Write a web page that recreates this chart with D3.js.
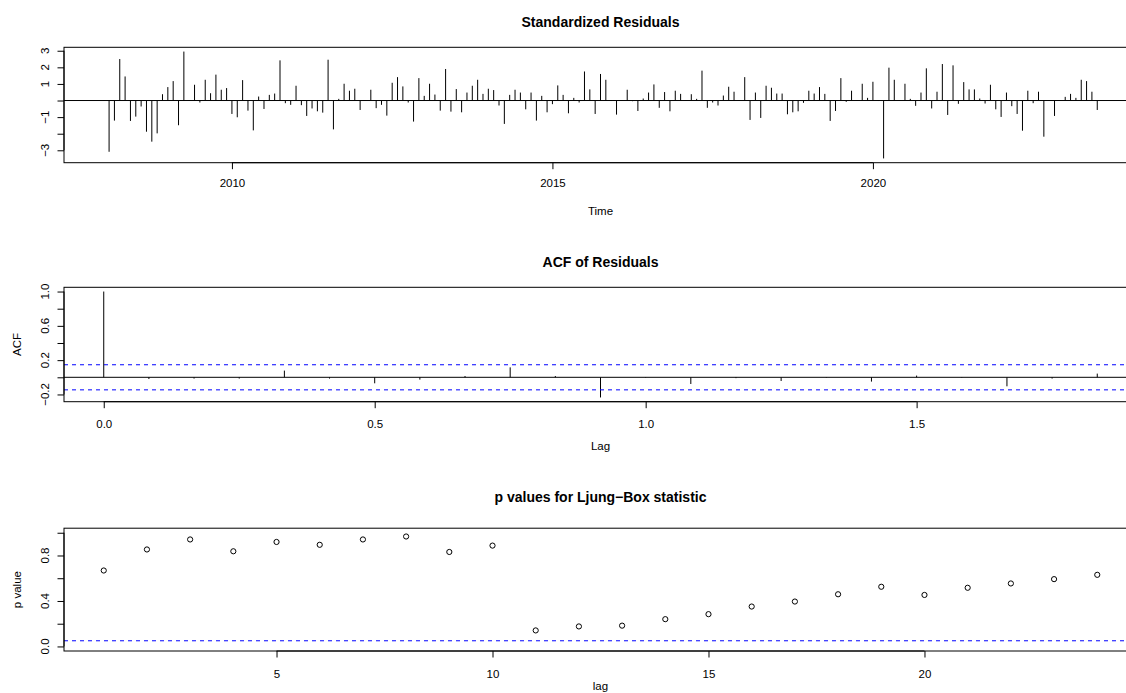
<!DOCTYPE html>
<html><head><meta charset="utf-8">
<script src="https://cdn.jsdelivr.net/npm/d3@7"></script>
<style>
body{margin:0;background:#fff}
svg{display:block}
text{font-family:"Liberation Sans",Arial,Helvetica,sans-serif;fill:#000}
</style>
</head><body>
<svg id="chart" width="1126" height="693"></svg>
<script>
// ---------------- data ----------------
const residStartYear = 2008;
const residFrequency = 12;
const residuals = [
 0.02,-3.09,-1.21, 2.50, 1.45,-1.23,-0.97,-0.36,-1.88,-2.48,-1.98, 0.38,
 0.81, 1.17,-1.49, 2.95, 0.03, 0.95,-0.12, 1.25, 0.44, 1.56, 0.65, 0.75,
-0.81,-1.01, 1.23,-0.61,-1.80, 0.24,-0.51, 0.34, 0.42, 2.42,-0.16,-0.26,
 0.89,-0.28,-0.93,-0.48,-0.65,-0.73, 2.46,-1.74, 0.10, 1.01, 0.59, 0.71,
-0.57,-0.02, 0.65,-0.46,-0.26,-0.91, 1.07, 1.41, 0.85,-0.12,-1.27, 1.35,
 0.28, 1.01, 0.36,-0.61, 1.90,-0.67, 0.69,-0.71, 0.48, 0.89, 1.25, 0.40,
 0.71, 0.63,-0.30,-1.41, 0.34, 0.65, 0.48,-0.53, 0.48,-1.21, 0.28,-0.71,
-0.22, 0.91, 0.34,-0.77, 0.16,-0.12, 1.75, 0.67,-0.81, 1.60, 1.25,-0.03,
-0.85, 0.01, 0.65,-0.04,-0.63, 0.12, 0.48, 0.97,-0.44, 0.51,-0.65, 0.59,
 0.40, 0.03, 0.38, 0.10, 1.80,-0.44,-0.12,-0.30, 0.30, 0.83, 0.53, 0.03,
 1.41,-1.17, 0.48,-1.05, 0.89, 0.77, 0.42, 0.42,-0.83,-0.71,-0.65,-0.14,
 0.59, 0.42, 0.81, 0.40,-1.23,-0.63, 1.35,-0.08, 0.59, 0.02, 1.01, 0.16,
 1.13,-0.03,-3.49, 1.98, 1.25, 0.02, 1.01, 0.10,-0.32, 0.48, 1.94,-0.48,
 0.53, 2.20,-0.87, 2.12,-0.20, 1.11, 0.67, 0.67, 0.12,-0.18, 0.95,-0.53,
-0.99, 0.48,-0.34,-0.81,-1.82, 0.59,-0.16, 0.53,-2.18, 0.01,-0.93, 0.02,
 0.22, 0.40, 0.16, 1.25, 1.17, 0.53,-0.57
];
const timeTicks = [2010, 2015, 2020];
const residYTicks = [-3,-2,-1,0,1,2,3];
const residYLabels = ["\u22123","","\u22121","","1","2","3"];

const acfLagMonths = [0,1,2,3,4,5,6,7,8,9,10,11,12,13,14,15,16,17,18,19,20,21,22];
const acfValues = [1.000,-0.020,-0.015,-0.015,0.078,-0.015,-0.070,-0.027,0.015,0.116,0.015,-0.235,
                   -0.005,-0.078,-0.010,-0.043,-0.005,-0.050,0.020,-0.005,-0.105,-0.015,0.043];
const acfBound = 0.1463;
const acfXTicks = [0.0, 0.5, 1.0, 1.5];
const acfXLabels = ["0.0","0.5","1.0","1.5"];
const acfYTicks = [-0.2,0,0.2,0.4,0.6,0.8,1.0];
const acfYLabels = ["\u22120.2","","0.2","","0.6","","1.0"];

const pLags = [1,2,3,4,5,6,7,8,9,10,11,12,13,14,15,16,17,18,19,20,21,22,23,24];
const pValues = [0.668,0.853,0.941,0.837,0.919,0.894,0.941,0.967,0.831,0.887,0.141,0.176,
                 0.183,0.240,0.284,0.351,0.395,0.459,0.525,0.453,0.516,0.554,0.592,0.630];
const pThreshold = 0.05;
const pXTicks = [5,10,15,20];
const pYTicks = [0,0.2,0.4,0.6,0.8,1.0];
const pYLabels = ["0.0","","0.4","","0.8",""];

// ---------------- helpers ----------------
const svg = d3.select("#chart");
const X0 = 64, X1 = 1137;
const FS = 11.5, FT = 14;
function pad(ext){ const r = ext[1]-ext[0]; return [ext[0]-0.04*r, ext[1]+0.04*r]; }

function frame(g, y0, y1){
  g.append("rect").attr("x",X0).attr("y",y0).attr("width",X1-X0).attr("height",y1-y0)
   .attr("fill","none").attr("stroke","#000").attr("stroke-width",1);
}
function xAxis(g, x, yb, ticks, labels, labelY){
  const ax = d3.axisBottom(x).tickValues(ticks).tickSize(6.5).tickPadding(0)
     .tickFormat((d,i)=>labels[i]);
  const a = g.append("g").attr("transform",`translate(0,${yb})`).call(ax);
  a.select(".domain").attr("d",`M${x(ticks[0])},0H${x(ticks[ticks.length-1])}`).attr("stroke","#000");
  a.selectAll(".tick line").attr("stroke","#000");
  a.selectAll(".tick text").attr("y",labelY-yb).attr("dy",null).attr("font-size",FS)
   .attr("font-family",'"Liberation Sans",Arial,sans-serif').attr("fill","#000");
}
function yAxis(g, y, ticks, labels){
  const ax = d3.axisLeft(y).tickValues(ticks).tickSize(6.5).tickFormat("");
  const a = g.append("g").attr("transform",`translate(${X0},0)`).call(ax);
  a.select(".domain").attr("d",`M0,${y(ticks[0])}V${y(ticks[ticks.length-1])}`).attr("stroke","#000");
  a.selectAll(".tick line").attr("stroke","#000");
  g.selectAll(null).data(ticks.map((t,i)=>({t,l:labels[i]})).filter(d=>d.l!==""))
   .enter().append("text")
   .attr("transform",d=>`translate(48.5,${y(d.t)}) rotate(-90)`)
   .attr("text-anchor","middle").attr("font-size",FS).text(d=>d.l);
}
function title(g, txt, yb){
  g.append("text").attr("x",(X0+X1)/2).attr("y",yb).attr("text-anchor","middle")
   .attr("font-size",FT).attr("font-weight","bold").text(txt);
}
function xlab(g, txt, yb){
  g.append("text").attr("x",(X0+X1)/2).attr("y",yb).attr("text-anchor","middle")
   .attr("font-size",FS).text(txt);
}
function ylab(g, txt, yc){
  g.append("text").attr("transform",`translate(21,${yc}) rotate(-90)`)
   .attr("text-anchor","middle").attr("font-size",FS).text(txt);
}

// ---------------- panel 1: standardized residuals ----------------
{
  const g = svg.append("g");
  const top = 47.3, bot = 162.7;
  const times = residuals.map((v,i)=>residStartYear + i/residFrequency);
  const x = d3.scaleLinear().domain(pad(d3.extent(times))).range([X0,X1]);
  const y = d3.scaleLinear().domain(pad(d3.extent(residuals))).range([bot,top]);
  g.append("line").attr("x1",X0).attr("x2",X1).attr("y1",y(0)).attr("y2",y(0)).attr("stroke","#000");
  g.selectAll(null).data(residuals).enter().append("line")
   .attr("x1",(d,i)=>x(times[i])).attr("x2",(d,i)=>x(times[i]))
   .attr("y1",y(0)).attr("y2",d=>y(d)).attr("stroke","#000").attr("stroke-width",1);
  frame(g, top, bot);
  xAxis(g, x, bot, timeTicks, timeTicks.map(String), 187);
  yAxis(g, y, residYTicks, residYLabels);
  title(g, "Standardized Residuals", 26.5);
  xlab(g, "Time", 215);
}

// ---------------- panel 2: ACF ----------------
{
  const g = svg.append("g");
  const top = 287.3, bot = 401.7;
  const lags = acfLagMonths.map(m=>m/12);
  const x = d3.scaleLinear().domain(pad(d3.extent(lags))).range([X0,X1]);
  const y = d3.scaleLinear().domain(pad([Math.min(d3.min(acfValues),-acfBound), Math.max(d3.max(acfValues),acfBound)])).range([bot,top]);
  g.selectAll(null).data(acfValues).enter().append("line")
   .attr("x1",(d,i)=>x(lags[i])).attr("x2",(d,i)=>x(lags[i]))
   .attr("y1",y(0)).attr("y2",d=>y(d)).attr("stroke","#000");
  g.append("line").attr("x1",X0).attr("x2",X1).attr("y1",y(0)).attr("y2",y(0)).attr("stroke","#000");
  [acfBound,-acfBound].forEach(b=>{
    g.append("line").attr("x1",X0).attr("x2",X1).attr("y1",y(b)).attr("y2",y(b))
     .attr("stroke","#0000ff").attr("stroke-dasharray","4,4");
  });
  frame(g, top, bot);
  xAxis(g, x, bot, acfXTicks, acfXLabels, 428);
  yAxis(g, y, acfYTicks, acfYLabels);
  title(g, "ACF of Residuals", 267);
  xlab(g, "Lag", 450);
  ylab(g, "ACF", (top+bot)/2);
}

// ---------------- panel 3: Ljung-Box p-values ----------------
{
  const g = svg.append("g");
  const top = 528.2, bot = 651;
  const x = d3.scaleLinear().domain(pad(d3.extent(pLags))).range([X0,X1]);
  const y = d3.scaleLinear().domain(pad([0,1])).range([bot,top]);
  g.append("line").attr("x1",X0).attr("x2",X1).attr("y1",y(pThreshold)).attr("y2",y(pThreshold))
   .attr("stroke","#0000ff").attr("stroke-dasharray","4,4");
  g.selectAll(null).data(pValues).enter().append("circle")
   .attr("cx",(d,i)=>x(pLags[i])).attr("cy",d=>y(d)).attr("r",2.6)
   .attr("fill","none").attr("stroke","#000").attr("stroke-width",1);
  frame(g, top, bot);
  xAxis(g, x, bot, pXTicks, pXTicks.map(String), 678);
  yAxis(g, y, pYTicks, pYLabels);
  title(g, "p values for Ljung\u2212Box statistic", 502);
  xlab(g, "lag", 690);
  ylab(g, "p value", (top+bot)/2);
}
</script>
</body></html>
